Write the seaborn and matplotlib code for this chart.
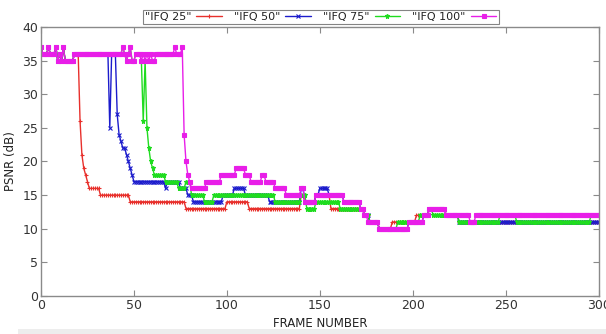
import numpy as np
import pandas as pd
import matplotlib
matplotlib.use("Agg")
import matplotlib.pyplot as plt
from matplotlib.patches import Rectangle
import seaborn as sns

# PSNR of the shared opening frames (0-76), before any series falls away
opening = ([37, 36, 36, 36, 37, 36, 36, 36, 37, 35, 36, 35, 37, 35, 35, 35, 35, 35]
           + [36] * 26
           + [37, 36, 35, 36, 37, 35, 35, 36, 36, 36, 35, 36, 35, 36, 35, 36, 35, 35]
           + [36] * 10
           + [37, 36, 36, 36, 37])

# Each series after it leaves the opening: (first frame, PSNR) steps
ifq25_steps = [(21, 26), (22, 21), (23, 19), (24, 18), (25, 17), (26, 16), (32, 15),
               (48, 14), (78, 13), (100, 14), (112, 13), (140, 15), (142, 14),
               (148, 15), (156, 13), (174, 12), (177, 11), (182, 10), (189, 11),
               (202, 12), (209, 13), (218, 12), (225, 11)]
ifq50_steps = [(37, 25), (38, 36), (41, 27), (42, 24), (43, 23), (44, 22), (46, 21),
               (47, 20), (48, 19), (49, 18), (50, 17), (67, 16), (68, 17), (75, 16),
               (79, 15), (82, 14), (98, 15), (104, 16), (110, 15), (123, 14),
               (140, 16), (142, 14), (148, 15), (150, 16), (155, 15), (163, 14),
               (172, 13), (174, 12), (177, 11), (182, 10), (198, 11), (206, 12),
               (209, 13), (218, 12), (225, 11)]
ifq75_steps = [(55, 26), (56, 35), (57, 25), (58, 22), (59, 20), (60, 19), (61, 18),
               (67, 17), (74, 16), (78, 17), (81, 15), (88, 14), (93, 15), (126, 14),
               (140, 15), (143, 13), (148, 14), (161, 13), (174, 12), (177, 11),
               (182, 10), (192, 11), (204, 12), (209, 13), (211, 12), (225, 11),
               (247, 12), (256, 11), (296, 12)]
ifq100_steps = [(77, 24), (78, 20), (79, 18), (80, 17), (81, 16), (89, 17), (97, 18),
                (105, 19), (110, 18), (113, 17), (119, 18), (121, 17), (126, 16),
                (132, 15), (140, 16), (142, 14), (148, 15), (163, 14), (172, 13),
                (174, 12), (176, 11), (182, 10), (198, 11), (206, 12), (209, 13),
                (218, 12), (231, 11), (234, 12)]

series_names = ['"IFQ 25"', '"IFQ 50"', '"IFQ 75"', '"IFQ 100"']
series_steps = [ifq25_steps, ifq50_steps, ifq75_steps, ifq100_steps]
colors = ["#e8302c", "#1c1ccc", "#1fdc1f", "#e81ee8"]
markers = ["+", "x", "*", "s"]
marker_sizes = [3.0, 2.6, 3.6, 2.6]

frames = np.arange(0, 301)


def expand(steps):
    """Per-frame PSNR: the opening values, then the series' own steps."""
    vals = np.empty(len(frames))
    vals[:len(opening)] = opening
    for i, (start, v) in enumerate(steps):
        end = steps[i + 1][0] if i + 1 < len(steps) else len(frames)
        vals[start:end] = v
    return vals


frames_df = pd.concat(
    [pd.DataFrame({"frame": frames, "psnr": expand(st), "series": name})
     for name, st in zip(series_names, series_steps)],
    ignore_index=True)

sns.set_theme(style="white")
plt.rcParams["font.family"] = ["DejaVu Sans"]

fig = plt.figure(figsize=(6.06, 3.34), dpi=100)
ax = fig.add_axes([0.0677, 0.114, 0.92, 0.805])

for name, col, mk, ms in zip(series_names, colors, markers, marker_sizes):
    sub = frames_df[frames_df["series"] == name]
    sns.lineplot(data=sub, x="frame", y="psnr", ax=ax, color=col, marker=mk,
                 markersize=ms, markeredgecolor=col, markerfacecolor=col,
                 markeredgewidth=0.8, linewidth=1.0, estimator=None,
                 sort=False, label=name)

ax.set_xlim(0, 300)
ax.set_ylim(0, 40)
ax.set_xticks(np.arange(0, 301, 50))
ax.set_yticks(np.arange(0, 41, 5))
ax.tick_params(direction="in", length=4, width=0.8, colors="#8a8a8a",
               labelcolor="#333333", labelsize=9, top=True, right=True,
               bottom=True, left=True, pad=2)
for s in ax.spines.values():
    s.set_color("#8a8a8a")
    s.set_linewidth(1.0)

ax.set_xlabel("FRAME NUMBER", fontsize=8.5, color="#222222", labelpad=4)
ax.set_ylabel("PSNR (dB)", fontsize=8.5, color="#222222", labelpad=4)

handles, labels = ax.get_legend_handles_labels()
ax.get_legend().remove()
leg = fig.legend(handles, labels, loc="upper center", bbox_to_anchor=(0.529, 0.97),
                 borderaxespad=0.0, ncol=4, frameon=True, fancybox=False,
                 markerfirst=False, fontsize=8, handlelength=2.3,
                 handletextpad=0.45, columnspacing=1.1, borderpad=0.2,
                 numpoints=1)
leg.get_frame().set_edgecolor("#666666")
leg.get_frame().set_linewidth(0.8)
for t in leg.get_texts():
    t.set_color("#222222")

# light page strip along the bottom edge
fig.add_artist(Rectangle((0.03, 0.0), 0.97, 5 / 334, transform=fig.transFigure,
                         facecolor="#ededed", edgecolor="none", zorder=-1))

fig.savefig("out.png", dpi=100, facecolor="white")
